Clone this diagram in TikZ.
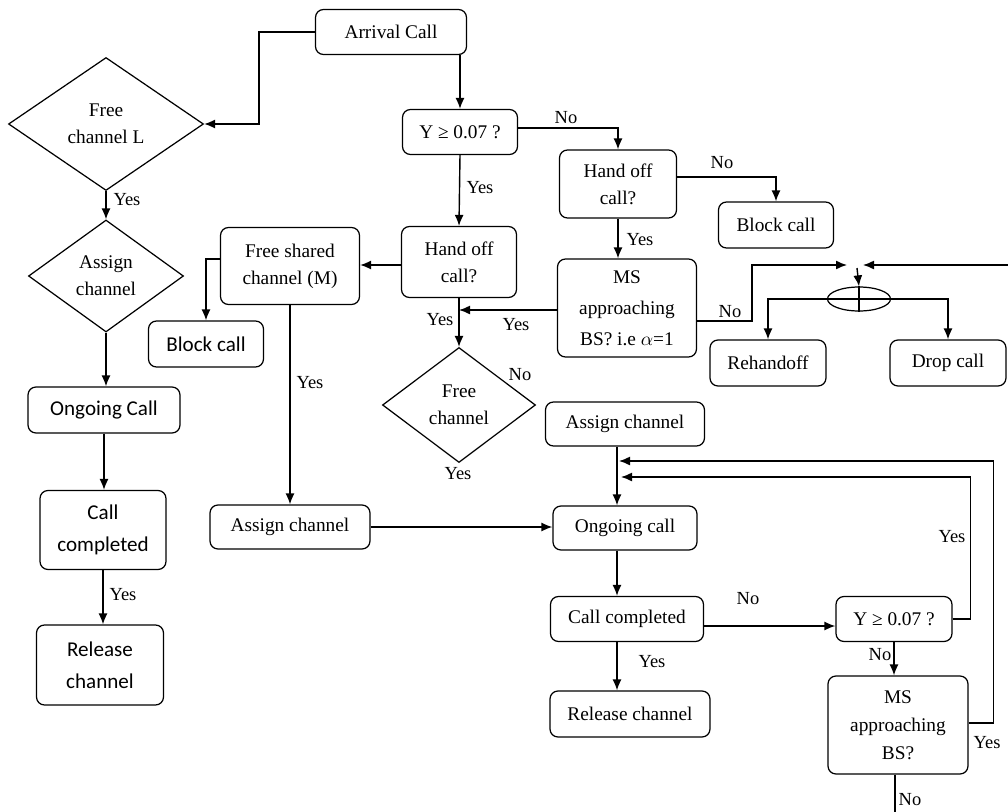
\documentclass[tikz,border=0pt]{standalone}
\usepackage{fontspec}
\setmainfont{Liberation Serif}
\newfontfamily\calfont{Carlito}
\usepackage{tikz}
\usetikzlibrary{arrows, arrows.meta, shapes.geometric}

\begin{document}
\begin{tikzpicture}[x=0.2mm,y=-0.2mm,
		box/.style={draw, rounded corners=1.6mm, line width=0.7pt, inner sep=0pt, align=center, font=\fontsize{11}{15.5}\selectfont},
		sbox/.style={box, font=\calfont\fontsize{12}{18}\selectfont},
		dia/.style={draw, diamond, line width=0.7pt, inner sep=0pt, align=center, font=\fontsize{11}{15.5}\selectfont},
		lbl/.style={inner sep=0pt, font=\fontsize{10.5}{12}\selectfont},
		arr/.style={-{Latex[length=2.2mm,width=1.8mm]}, line width=0.8pt},
		ln/.style={line width=0.8pt}]
	\useasboundingbox (0,0) rectangle (1008,812);
	\node[box, minimum width=30.2mm, minimum height=9mm] (arrival) at (391,32) {Arrival Call};
	\node[dia, minimum width=39mm, minimum height=26.6mm] (freeL) at (106,124) {Free\\channel L};
	\node[box, minimum width=23mm, minimum height=9mm] (gamma) at (460,132) {Υ ≥ 0.07 ?};
	\node[box, minimum width=23.4mm, minimum height=13.6mm] (hoR) at (618,184) {Hand off\\call?};
	\node[box, minimum width=23mm, minimum height=9.2mm] (blockR) at (776,225) {Block call};
	\node[dia, minimum width=31mm, minimum height=22.4mm] (assignL) at (106,276) {Assign\\channel};
	\node[box, minimum width=27.8mm, minimum height=15.4mm] (shared) at (290,266) {Free shared\\channel (M)};
	\node[box, minimum width=23mm, minimum height=14.2mm] (hoM) at (459,262) {Hand off\\call?};
	\node[sbox, minimum width=23mm, minimum height=9.2mm] (blockM) at (206,344) {Block call};
	\node[box, minimum width=27.8mm, minimum height=19.6mm, font=\fontsize{11}{17.5}\selectfont] (msT) at (627,308) {MS\\approaching\\BS? i.e $\alpha$=1};
	\node[box, minimum width=23.2mm, minimum height=9.2mm] (rehand) at (768,363) {Rehandoff};
	\node[box, minimum width=23.2mm, minimum height=9.2mm] (drop) at (948,363) {Drop call};
	\node[draw, ellipse, line width=0.7pt, inner sep=0pt, minimum width=12.6mm, minimum height=4.8mm] (xor) at (859,299) {};
	\node[dia, minimum width=30.6mm, minimum height=23mm] (freeM) at (459,405) {Free\\channel};
	\node[box, minimum width=31.8mm, minimum height=8.8mm] (assignT) at (625,424) {Assign channel};
	\node[box, minimum width=28.8mm, minimum height=8.8mm] (ongoingR) at (625,528) {Ongoing call};
	\node[box, minimum width=32mm, minimum height=8.8mm] (assignM) at (290,527) {Assign channel};
	\node[sbox, minimum width=30.4mm, minimum height=9.2mm] (ongoingL) at (104,410) {Ongoing Call};
	\node[sbox, minimum width=25.2mm, minimum height=15.8mm] (doneL) at (103,530) {Call\\completed};
	\node[sbox, minimum width=25.4mm, minimum height=16mm] (releaseL) at (100,665) {Release\\channel};
	\node[box, minimum width=30.6mm, minimum height=9mm] (doneR) at (627,619) {Call completed};
	\node[box, minimum width=32mm, minimum height=9.2mm] (releaseR) at (630,714) {Release channel};
	\node[box, minimum width=23.2mm, minimum height=9mm] (gammaB) at (894,619) {Υ ≥ 0.07 ?};
	\node[box, minimum width=28mm, minimum height=19.6mm, font=\fontsize{11}{16}\selectfont] (msB) at (898,725) {MS\\approaching\\BS?};
	\coordinate (spine) at (617,0);
	\coordinate (jL) at (847,265);
	\coordinate (jR) at (863,265);
	\coordinate (jT) at (857,268);
	\coordinate (edgeR) at (1008,265);
	\coordinate (loopA) at (619,461);
	\coordinate (loopB) at (621,477);
	\coordinate (offB) at (895,812);
	\draw[ln] (xor.north) -- (xor.south);
	\draw[ln] (xor.west) -- (xor.east);
	\draw[arr] (arrival.west) -- ++(-56,0) |- (freeL.east);
	\draw[arr] (arrival.south -| gamma) -- (gamma.north);
	\draw[arr] ([yshift=0.8mm]gamma.east) -| (hoR.north);
	\draw[arr] (gamma.south) -- (hoM.north);
	\draw[arr] ([yshift=1.4mm]hoR.east) -| (blockR.north);
	\draw[arr] (hoR.south) -- (hoR.south |- msT.north);
	\draw[arr] ([yshift=-0.6mm]hoM.west) -- ([yshift=-0.6mm]hoM.west -| shared.east);
	\draw[arr] ([yshift=1.4mm]shared.west) -| (blockM.north);
	\draw[arr] (shared.south) -- (assignM.north);
	\draw[arr] (hoM.south) -- (freeM.north);
	\draw[arr] ([yshift=-0.4mm]msT.west) -- ([yshift=-0.4mm]msT.west -| hoM.south);
	\draw[arr] ([yshift=-2.6mm]msT.east) -- ++(55,0) |- (jL);
	\draw[arr] (edgeR) -- (jR);
	\draw[arr] (jT) -- (xor.north);
	\draw[arr] (xor.west) -| (rehand.north);
	\draw[arr] (xor.east) -| (drop.north);
	\draw[arr] (freeL.south) -- (assignL.north);
	\draw[arr] (assignL.south) -- (assignL.south |- ongoingL.north);
	\draw[arr] (ongoingL.south) -- (ongoingL.south |- doneL.north);
	\draw[arr] (doneL.south) -- (doneL.south |- releaseL.north);
	\draw[arr] (assignT.south -| spine) -- (ongoingR.north -| spine);
	\draw[arr] (assignM.east) -- (assignM.east -| ongoingR.west);
	\draw[arr] (ongoingR.south -| spine) -- (doneR.north -| spine);
	\draw[arr] (doneR.south -| spine) -- (releaseR.north -| spine);
	\draw[arr] ([yshift=-1.4mm]doneR.east) -- ([yshift=-1.4mm]doneR.east -| gammaB.west);
	\draw[arr] (gammaB.south) -- (gammaB.south |- msB.north);
	\draw[arr] ([yshift=0.4mm]msB.east) -- ++(25,0) |- (loopA);
	\draw[arr] (gammaB.east) -- ++(18,0) |- (loopB);
	\draw[ln] (msB.south -| offB) -- (offB);
	\node[lbl] (l1) at (566,118) {No};
	\node[lbl] (l2) at (480,188) {Yes};
	\node[lbl] (l3) at (722,163) {No};
	\node[lbl] (l4) at (640,240) {Yes};
	\node[lbl] (l5) at (127,200) {Yes};
	\node[lbl] (l6) at (310,383) {Yes};
	\node[lbl] (l7) at (440,320) {Yes};
	\node[lbl] (l8) at (516,325) {Yes};
	\node[lbl] (l9) at (730,312) {No};
	\node[lbl] (l10) at (520,375) {No};
	\node[lbl] (l11) at (458,474) {Yes};
	\node[lbl] (l12) at (123,595) {Yes};
	\node[lbl] (l13) at (652,662) {Yes};
	\node[lbl] (l14) at (748,599) {No};
	\node[lbl] (l15) at (880,655) {No};
	\node[lbl] (l16) at (952,537) {Yes};
	\node[lbl] (l17) at (987,743) {Yes};
	\node[lbl] (l18) at (910,800) {No};
\end{tikzpicture}
\end{document}
